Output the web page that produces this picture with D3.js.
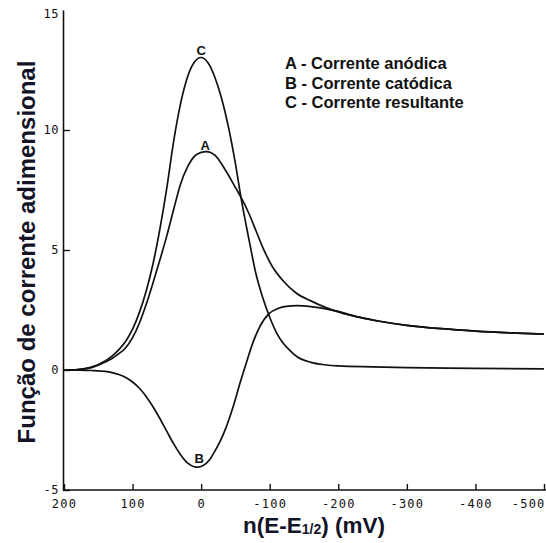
<!DOCTYPE html>
<html>
<head>
<meta charset="utf-8">
<script src="https://cdn.jsdelivr.net/npm/d3@7"></script>
<style>
  html, body { margin: 0; padding: 0; background: #fff; }
  svg { display: block; }
</style>
</head>
<body>
<script>
// ---- data ----
const xTicks = [200, 100, 0, -100, -200, -300, -400, -500];
const xTickLabels = ["200", "100", "0", "-100", "-200", "-300", "-400", "-500"];
const yTicks = [-5, 0, 5, 10, 15];
const yTickLabels = ["-5", "0", "5", "10", "15"];

// Curve A - Corrente anódica
const potA = [200, 180, 160, 140, 130, 120, 110, 100, 90, 80, 70, 60, 50, 40, 30, 20, 10, 0, -8, -20, -36, -50, -58, -70, -80, -90, -104, -120, -139, -160, -182, -200, -230, -260, -300, -350, -400, -450, -500];
const valA = [0, 0.02, 0.1, 0.33, 0.48, 0.68, 0.93, 1.35, 1.96, 2.75, 3.65, 4.6, 5.6, 6.7, 7.75, 8.45, 8.9, 9.07, 9.1, 8.95, 8.3, 7.6, 7.2, 6.5, 5.8, 5.1, 4.3, 3.7, 3.2, 2.88, 2.6, 2.42, 2.2, 2.03, 1.86, 1.72, 1.62, 1.55, 1.5];

// Curve B - Corrente catódica
const potB = [200, 180, 160, 140, 130, 120, 110, 100, 90, 80, 70, 60, 50, 40, 30, 20, 10, 5, -3, -12, -20, -28, -36, -47, -58, -67, -75, -85, -99, -112, -124, -140, -160, -182, -200, -230, -260, -300, -350, -400, -450, -500];
const valB = [0, -0.005, -0.02, -0.06, -0.11, -0.19, -0.31, -0.5, -0.76, -1.11, -1.54, -2.03, -2.56, -3.08, -3.53, -3.87, -4.03, -4.05, -3.98, -3.75, -3.38, -2.95, -2.42, -1.5, -0.42, 0.4, 1.1, 1.78, 2.35, 2.56, 2.65, 2.68, 2.64, 2.55, 2.44, 2.2, 2.03, 1.86, 1.72, 1.62, 1.55, 1.5];

// Curve C - Corrente resultante
const potC = [200, 180, 160, 140, 130, 120, 110, 100, 90, 80, 70, 60, 50, 40, 30, 20, 10, 0, -10, -20, -30, -40, -50, -58, -70, -80, -90, -100, -110, -120, -130, -140, -160, -180, -200, -250, -300, -400, -500];
const valC = [0, 0.02, 0.12, 0.38, 0.58, 0.85, 1.2, 1.7, 2.4, 3.3, 4.45, 5.9, 7.6, 9.55, 11.1, 12.2, 12.82, 13.02, 12.8, 12.2, 11.3, 10.1, 8.6, 7.2, 5.4, 4.0, 3.0, 2.2, 1.55, 1.1, 0.8, 0.55, 0.32, 0.22, 0.17, 0.13, 0.1, 0.07, 0.05];

const legendLines = ["A - Corrente anódica", "B - Corrente catódica", "C - Corrente resultante"];
const curveLabels = ["A", "B", "C"];
const yTitle = "Função de corrente adimensional";

// ---- chart ----
const W = 546, H = 543;
const svg = d3.select("body").append("svg").attr("width", W).attr("height", H);

const x = d3.scaleLinear().domain([200, -500]).range([64, 544]);
const y = d3.scaleLinear().domain([-5, 15]).range([490, 10]);

const tickFont = "'DejaVu Sans Mono', 'Liberation Mono', monospace";

// x axis
const xAxis = d3.axisBottom(x)
  .tickValues(xTicks)
  .tickSizeInner(-6)
  .tickSizeOuter(0)
  .tickPadding(9)
  .tickFormat((d, i) => xTickLabels[i]);
const gx = svg.append("g").attr("transform", `translate(0,${y(-5)})`).call(xAxis);
gx.select(".domain").attr("stroke", "#111").attr("stroke-width", 1.6).attr("d", `M${x(200) - 1},0H${W}`);
gx.selectAll(".tick line").attr("stroke", "#111").attr("stroke-width", 1.4);
gx.selectAll(".tick text")
  .attr("font-family", tickFont).attr("font-size", 12).attr("letter-spacing", 1.2)
  .attr("fill", "#111")
  .attr("text-anchor", (d, i) => i === xTicks.length - 1 ? "end" : "middle")
  .attr("dx", (d, i) => i === xTicks.length - 1 ? 1 : 0);

// y axis
const yAxis = d3.axisLeft(y)
  .tickValues(yTicks)
  .tickSizeInner(-7)
  .tickSizeOuter(0)
  .tickPadding(4)
  .tickFormat((d, i) => yTickLabels[i]);
const gy = svg.append("g").attr("transform", `translate(${x(200) - 1},0)`).call(yAxis);
gy.select(".domain").attr("stroke", "#111").attr("stroke-width", 1.6);
gy.selectAll(".tick line").attr("stroke", "#111").attr("stroke-width", 1.4);
gy.selectAll(".tick text")
  .attr("font-family", tickFont).attr("font-size", 12).attr("letter-spacing", 0.5)
  .attr("fill", "#111");
gy.selectAll(".tick").filter(d => d === 15).select("line").remove();
gy.selectAll(".tick").filter(d => d === 15).select("text").attr("dy", "0.6em");

// curves
const line = d3.line()
  .x(d => x(d[0])).y(d => y(d[1]))
  .curve(d3.curveMonotoneX);

const series = [
  d3.zip(potA, valA),
  d3.zip(potB, valB),
  d3.zip(potC, valC)
];
svg.append("g").selectAll("path").data(series).join("path")
  .attr("d", line)
  .attr("fill", "none")
  .attr("stroke", "#111")
  .attr("stroke-width", 1.7)
  .attr("stroke-linejoin", "round");

// curve labels
const labelFont = "Arial, 'Liberation Sans', sans-serif";
const labelPos = [[-6, 9.1], [3, -4.05], [0, 13.02]];
const labelDy = [-2, -4, -3];
svg.append("g").selectAll("text").data(curveLabels).join("text")
  .attr("x", (d, i) => x(labelPos[i][0]))
  .attr("y", (d, i) => y(labelPos[i][1]) + labelDy[i])
  .attr("text-anchor", "middle")
  .attr("font-family", labelFont).attr("font-weight", "bold").attr("font-size", 13)
  .attr("fill", "#111")
  .text(d => d);

// legend
svg.append("g").selectAll("text").data(legendLines).join("text")
  .attr("x", 285)
  .attr("y", (d, i) => 69 + i * 19.5)
  .attr("font-family", labelFont).attr("font-weight", "bold").attr("font-size", 16.5)
  .attr("fill", "#111")
  .text(d => d);

// y title
svg.append("text")
  .attr("transform", `translate(35,252) rotate(-90)`)
  .attr("text-anchor", "middle")
  .attr("font-family", labelFont).attr("font-weight", "bold").attr("font-size", 24)
  .attr("fill", "#141428")
  .text(yTitle);

// x title
const xt = svg.append("text")
  .attr("x", 314).attr("y", 533)
  .attr("text-anchor", "middle")
  .attr("font-family", labelFont).attr("font-weight", "bold").attr("font-size", 22.5)
  .attr("fill", "#141428");
xt.append("tspan").text("n(E-E");
xt.append("tspan").attr("font-size", 14).attr("dy", 1).text("1/2");
xt.append("tspan").attr("dy", -1).text(") (mV)");
</script>
</body>
</html>
